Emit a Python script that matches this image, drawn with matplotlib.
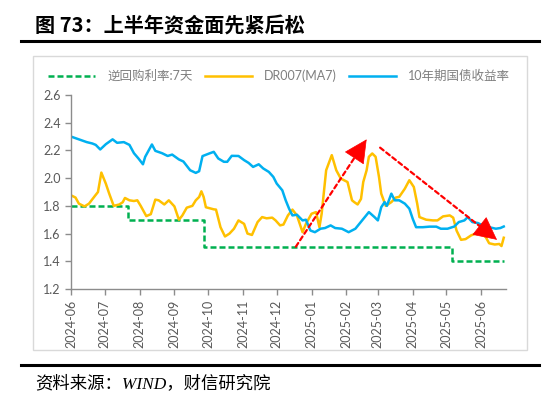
import matplotlib
matplotlib.use("Agg")
import matplotlib.pyplot as plt
import matplotlib.dates as mdates
from matplotlib.lines import Line2D
from matplotlib.patches import Rectangle
import pandas as pd

plt.rcParams['font.family'] = ['Lato', 'Noto Sans CJK SC', 'DejaVu Sans']

# 10年期国债收益率
bond_dates = ['2024-06-01', '2024-06-08', '2024-06-15', '2024-06-20', '2024-06-23', '2024-06-27',
              '2024-07-02', '2024-07-08', '2024-07-12', '2024-07-18', '2024-07-23', '2024-07-27',
              '2024-07-31', '2024-08-04', '2024-08-06', '2024-08-12', '2024-08-15', '2024-08-21',
              '2024-08-26', '2024-08-30', '2024-09-05', '2024-09-09', '2024-09-15', '2024-09-20',
              '2024-09-23', '2024-09-26', '2024-10-02', '2024-10-06', '2024-10-10', '2024-10-15',
              '2024-10-18', '2024-10-22', '2024-10-28', '2024-11-02', '2024-11-06', '2024-11-10',
              '2024-11-15', '2024-11-19', '2024-11-24', '2024-11-28', '2024-12-01', '2024-12-06',
              '2024-12-09', '2024-12-12', '2024-12-15', '2024-12-19', '2024-12-24', '2024-12-27',
              '2024-12-31', '2025-01-04', '2025-01-09', '2025-01-13', '2025-01-18', '2025-01-22',
              '2025-01-28', '2025-02-03', '2025-02-09', '2025-02-15', '2025-02-21', '2025-02-26',
              '2025-03-01', '2025-03-04', '2025-03-07', '2025-03-09', '2025-03-13', '2025-03-16',
              '2025-03-20', '2025-03-25', '2025-03-29', '2025-04-01', '2025-04-04', '2025-04-10',
              '2025-04-16', '2025-04-22', '2025-04-26', '2025-05-02', '2025-05-08', '2025-05-12',
              '2025-05-17', '2025-05-20', '2025-05-24', '2025-05-29', '2025-06-02', '2025-06-08',
              '2025-06-14', '2025-06-18', '2025-06-21']
bond_yield = [2.30, 2.28, 2.26, 2.25, 2.24, 2.207,
              2.245, 2.28, 2.255, 2.26, 2.24, 2.18,
              2.142, 2.10, 2.154, 2.243, 2.197, 2.18,
              2.16, 2.17, 2.135, 2.12, 2.057, 2.038,
              2.05, 2.159, 2.178, 2.19, 2.142, 2.118,
              2.118, 2.161, 2.16, 2.13, 2.11, 2.081,
              2.10, 2.07, 2.045, 2.009, 1.961, 1.912,
              1.84, 1.78, 1.731, 1.736, 1.695, 1.70,
              1.622, 1.61, 1.635, 1.64, 1.659, 1.64,
              1.635, 1.61, 1.635, 1.695, 1.755, 1.719,
              1.695, 1.79, 1.827, 1.80, 1.888, 1.84,
              1.84, 1.816, 1.78, 1.707, 1.646, 1.646,
              1.65, 1.65, 1.635, 1.635, 1.651, 1.683,
              1.695, 1.719, 1.683, 1.676, 1.659, 1.646,
              1.635, 1.64, 1.651]

# DR007(MA7)
dr_dates = ['2024-06-01', '2024-06-05', '2024-06-08', '2024-06-13', '2024-06-17', '2024-06-22',
            '2024-06-25', '2024-06-28', '2024-07-02', '2024-07-05', '2024-07-09', '2024-07-14',
            '2024-07-17', '2024-07-19', '2024-07-23', '2024-07-27', '2024-07-30', '2024-08-02',
            '2024-08-07', '2024-08-11', '2024-08-15', '2024-08-18', '2024-08-23', '2024-08-27',
            '2024-09-01', '2024-09-05', '2024-09-08', '2024-09-12', '2024-09-17', '2024-09-20',
            '2024-09-23', '2024-09-25', '2024-09-27', '2024-09-29', '2024-10-06', '2024-10-08',
            '2024-10-12', '2024-10-16', '2024-10-20', '2024-10-24', '2024-10-28', '2024-11-02',
            '2024-11-05', '2024-11-09', '2024-11-14', '2024-11-18', '2024-11-22', '2024-11-27',
            '2024-11-30', '2024-12-04', '2024-12-07', '2024-12-11', '2024-12-15', '2024-12-19',
            '2024-12-24', '2024-12-27', '2025-01-01', '2025-01-05', '2025-01-08', '2025-01-10',
            '2025-01-14', '2025-01-19', '2025-01-23', '2025-01-27', '2025-02-02', '2025-02-06',
            '2025-02-08', '2025-02-11', '2025-02-14', '2025-02-16', '2025-02-19', '2025-02-21',
            '2025-02-24', '2025-02-27', '2025-03-02', '2025-03-04', '2025-03-08', '2025-03-13',
            '2025-03-17', '2025-03-20', '2025-03-25', '2025-03-29', '2025-04-02', '2025-04-05',
            '2025-04-07', '2025-04-13', '2025-04-19', '2025-04-23', '2025-04-28', '2025-05-04',
            '2025-05-07', '2025-05-10', '2025-05-14', '2025-05-18', '2025-05-23', '2025-05-27',
            '2025-06-01', '2025-06-05', '2025-06-08', '2025-06-13', '2025-06-17', '2025-06-19',
            '2025-06-21']
dr007 = [1.876, 1.86, 1.816, 1.796, 1.816, 1.869,
         1.90, 2.04, 1.96, 1.888, 1.80, 1.81,
         1.826, 1.857, 1.84, 1.835, 1.84, 1.80,
         1.726, 1.74, 1.845, 1.84, 1.81, 1.84,
         1.796, 1.70, 1.73, 1.787, 1.80, 1.84,
         1.864, 1.905, 1.864, 1.79, 1.775, 1.773,
         1.646, 1.579, 1.60, 1.635, 1.695, 1.67,
         1.60, 1.59, 1.683, 1.719, 1.71, 1.715,
         1.695, 1.659, 1.665, 1.731, 1.773, 1.731,
         1.61, 1.67, 1.743, 1.755, 1.646, 1.743,
         2.057, 2.166, 2.057, 1.997, 1.972, 1.84,
         1.827, 1.81, 1.85, 1.972, 2.057, 2.154,
         2.178, 2.154, 2.009, 1.888, 1.80, 1.827,
         1.86, 1.865, 1.924, 1.985, 1.936, 1.816,
         1.719, 1.70, 1.695, 1.695, 1.724, 1.731,
         1.715, 1.622, 1.555, 1.56, 1.587, 1.60,
         1.60, 1.574, 1.53, 1.521, 1.525, 1.51,
         1.57]

# 逆回购利率:7天 (step changes)
rr_dates = ['2024-06-01', '2024-07-22', '2024-09-27', '2025-05-06', '2025-06-21']
rr_rate = [1.8, 1.7, 1.5, 1.4, 1.4]

# red trend arrows: (start date, start value) -> (end date, end value)
arrow_up = [('2024-12-18', 1.505), ('2025-02-19', 2.28)]
arrow_down = [('2025-03-03', 2.22), ('2025-06-15', 1.555)]

y_ticks = [1.2, 1.4, 1.6, 1.8, 2.0, 2.2, 2.4, 2.6]

W, H = 550, 398
fig = plt.figure(figsize=(5.5, 3.98), dpi=100)
fig.patch.set_facecolor('white')

# title and separator lines
fig.text(35 / W, 1 - 25 / H, '图 73：上半年资金面先紧后松', fontsize=14.5, fontweight='bold',
         family=['Noto Sans CJK SC'], va='center', ha='left')
fig.add_artist(Line2D([21 / W, 539 / W], [1 - 41 / H] * 2, color='black', lw=2.2))
fig.add_artist(Line2D([21 / W, 539 / W], [1 - 365 / H] * 2, color='black', lw=2.2))
fig.add_artist(Rectangle((33 / W, 1 - 350 / H), (527 - 33) / W, (350 - 56) / H,
                         fill=False, edgecolor='#d9d9d9', lw=1))
fig.text(35 / W, 1 - 384 / H, '资料来源：WIND，财信研究院', fontsize=12.5, style='italic',
         family=['Liberation Serif', 'Noto Sans CJK SC'], va='center', ha='left')

ax = fig.add_axes([71 / W, 1 - 289 / H, 435 / W, 194 / H])

ax.plot(pd.to_datetime(rr_dates), rr_rate, drawstyle='steps-post', color='#00B050',
        lw=1.8, ls=(0, (2.4, 1.2)), label='逆回购利率:7天')
ax.plot(pd.to_datetime(dr_dates), dr007, color='#FFC000', lw=1.8, label='DR007(MA7)')
ax.plot(pd.to_datetime(bond_dates), bond_yield, color='#00B0F0', lw=1.8, label='10年期国债收益率')

# dashed shaft + solid head
for (d0, v0), (d1, v1) in [arrow_up, arrow_down]:
    t0, t1 = pd.Timestamp(d0), pd.Timestamp(d1)
    ax.annotate('', xy=(t1, v1), xytext=(t0, v0),
                arrowprops=dict(arrowstyle='-', color='#FF0000', lw=1.6,
                                ls=(0, (2, 1.5)), shrinkA=0, shrinkB=8))
    back = (t0 + (t1 - t0) * 0.9, v0 + (v1 - v0) * 0.9)
    ax.annotate('', xy=(t1, v1), xytext=back,
                arrowprops=dict(arrowstyle='-|>,head_length=1.1,head_width=0.55',
                                color='#FF0000', lw=0.5, mutation_scale=14,
                                shrinkA=0, shrinkB=0))

ax.set_ylim(1.2, 2.6)
ax.set_yticks(y_ticks)
ax.set_yticklabels([f'{t:.1f}' for t in y_ticks])
ax.set_xlim(pd.Timestamp('2024-06-01'), pd.Timestamp('2025-06-23'))
ax.xaxis.set_major_locator(mdates.MonthLocator())
ax.xaxis.set_major_formatter(mdates.DateFormatter('%Y-%m'))
for lab in ax.get_xticklabels():
    lab.set_rotation(90)

ax.spines['top'].set_visible(False)
ax.spines['right'].set_visible(False)
for s in ['left', 'bottom']:
    ax.spines[s].set_color('#8c8c8c')
    ax.spines[s].set_linewidth(1.0)
ax.tick_params(axis='both', colors='#8c8c8c', labelcolor='#595959', labelsize=9,
               length=4, width=1.0, direction='out')
ax.set_facecolor('white')

fig.legend(loc='center', bbox_to_anchor=(279 / W, 1 - 76 / H), ncol=3, frameon=False,
           fontsize=9, handlelength=3.8, handletextpad=0.95, columnspacing=0.95,
           labelcolor='#7f7f7f')

fig.savefig('out.png', dpi=100)
